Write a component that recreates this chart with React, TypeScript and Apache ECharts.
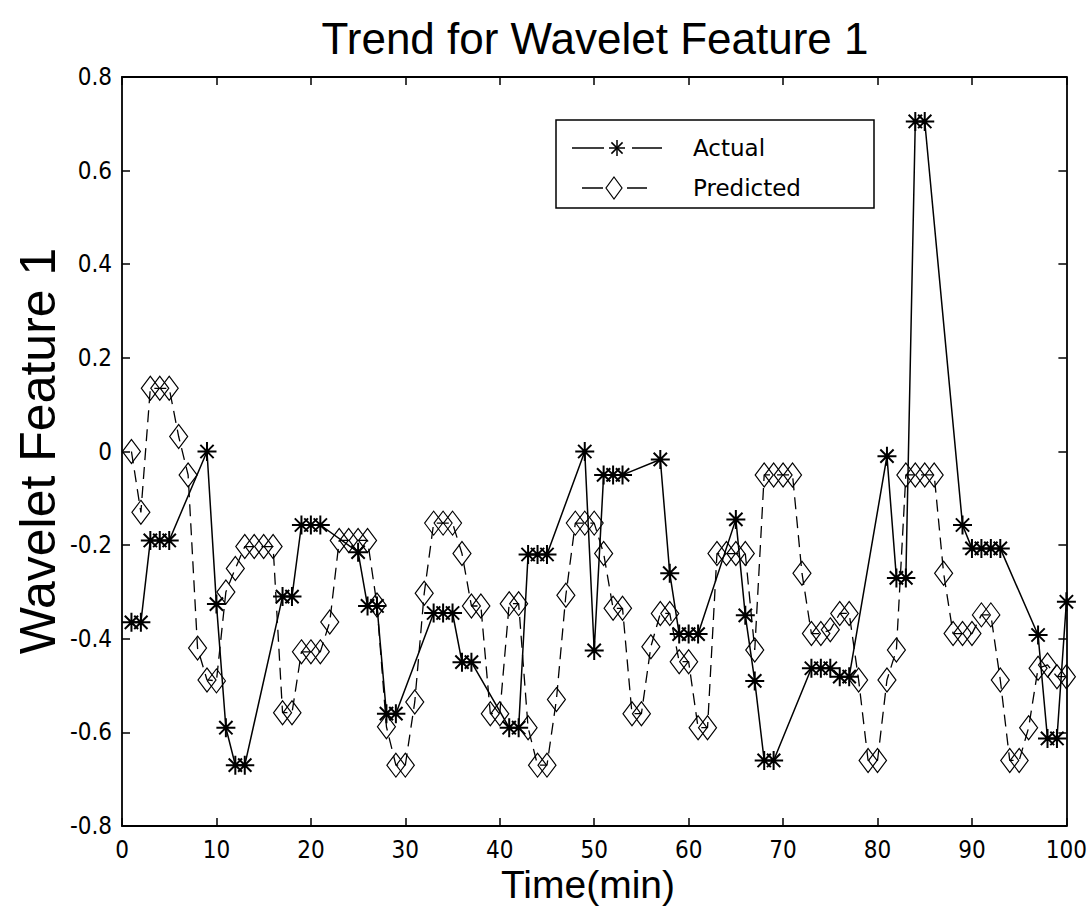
import React, { useEffect, useRef } from "react";
import * as echarts from "echarts";

const actualTime = [1, 2, 3, 4, 5, 9, 10, 11, 12, 13, 17, 18, 19, 20, 21, 25, 26, 27, 28, 29, 33, 34, 35, 36, 37, 41, 42, 43, 44, 45, 49, 50, 51, 52, 53, 57, 58, 59, 60, 61, 65, 66, 67, 68, 69, 73, 74, 75, 76, 77, 81, 82, 83, 84, 85, 89, 90, 91, 92, 93, 97, 98, 99, 100];
const actualValues = [-0.365, -0.365, -0.19, -0.19, -0.19, 0.0, -0.326, -0.59, -0.67, -0.67, -0.31, -0.31, -0.157, -0.157, -0.157, -0.215, -0.33, -0.33, -0.56, -0.56, -0.345, -0.345, -0.345, -0.45, -0.45, -0.59, -0.59, -0.22, -0.22, -0.22, 0.0, -0.425, -0.05, -0.05, -0.05, -0.017, -0.26, -0.39, -0.39, -0.39, -0.145, -0.35, -0.49, -0.66, -0.66, -0.463, -0.463, -0.463, -0.481, -0.481, -0.01, -0.27, -0.27, 0.705, 0.705, -0.157, -0.207, -0.207, -0.207, -0.207, -0.392, -0.613, -0.613, -0.321];

const predictedTime = [1, 2, 3, 4, 5, 6, 7, 8, 9, 10, 11, 12, 13, 14, 15, 16, 17, 18, 19, 20, 21, 22, 23, 24, 25, 26, 27, 28, 29, 30, 31, 32, 33, 34, 35, 36, 37, 38, 39, 40, 41, 42, 43, 44, 45, 46, 47, 48, 49, 50, 51, 52, 53, 54, 55, 56, 57, 58, 59, 60, 61, 62, 63, 64, 65, 66, 67, 68, 69, 70, 71, 72, 73, 74, 75, 76, 77, 78, 79, 80, 81, 82, 83, 84, 85, 86, 87, 88, 89, 90, 91, 92, 93, 94, 95, 96, 97, 98, 99, 100];
const predictedValues = [0.0, -0.13, 0.135, 0.135, 0.135, 0.032, -0.05, -0.42, -0.488, -0.49, -0.3, -0.25, -0.203, -0.203, -0.203, -0.203, -0.558, -0.558, -0.428, -0.428, -0.428, -0.364, -0.19, -0.19, -0.19, -0.19, -0.328, -0.588, -0.67, -0.67, -0.535, -0.303, -0.153, -0.153, -0.153, -0.218, -0.33, -0.33, -0.56, -0.56, -0.325, -0.325, -0.59, -0.67, -0.67, -0.53, -0.307, -0.153, -0.153, -0.153, -0.218, -0.335, -0.335, -0.56, -0.56, -0.417, -0.346, -0.346, -0.449, -0.449, -0.59, -0.59, -0.218, -0.218, -0.218, -0.218, -0.424, -0.05, -0.05, -0.05, -0.05, -0.26, -0.389, -0.389, -0.381, -0.346, -0.346, -0.488, -0.66, -0.66, -0.488, -0.424, -0.05, -0.05, -0.05, -0.05, -0.26, -0.389, -0.389, -0.389, -0.349, -0.349, -0.488, -0.66, -0.66, -0.59, -0.463, -0.456, -0.481, -0.481];

const titleText = "Trend for Wavelet Feature 1";
const xAxisTitle = "Time(min)";
const yAxisTitle = "Wavelet Feature 1";
const seriesNames = ["Actual", "Predicted"];

const ASTERISK = "path://M10,0 L10,20 M0,10 L20,10 M3,3 L17,17 M3,17 L17,3";
const tickFont = "'Liberation Sans Narrow', 'DejaVu Sans Condensed', 'Liberation Sans', Arial, sans-serif";
const labelFont = "'Liberation Sans', Arial, sans-serif";

export default function App() {
  const ref = useRef<HTMLDivElement>(null);
  useEffect(() => {
    if (!ref.current) return;
    const chart = echarts.init(ref.current, undefined, { renderer: "svg" });
    const axisLine = { show: true, onZero: false, lineStyle: { color: "#000", width: 1.8 } };
    const axisTick = { show: true, inside: true, length: 8, lineStyle: { color: "#000", width: 1.5 } };
    const fmtY = (v: number) => (Math.abs(v) < 1e-9 ? "0" : v.toFixed(1));

    const legendX = 556, legendY = 120, legendW = 318, legendH = 88;
    const aY = 148, pY = 188;
    const Z = 100;
    const seg = (x1: number, y1: number, x2: number, y2: number, w = 1.5) => ({
      type: "line", z: Z + 1, shape: { x1, y1, x2, y2 }, style: { stroke: "#000", lineWidth: w },
    });
    const ast = (cx: number, cy: number, r: number) => [
      seg(cx, cy - r, cx, cy + r),
      seg(cx - r, cy, cx + r, cy),
      seg(cx - r * 0.7, cy - r * 0.7, cx + r * 0.7, cy + r * 0.7),
      seg(cx - r * 0.7, cy + r * 0.7, cx + r * 0.7, cy - r * 0.7),
    ];

    chart.setOption({
      animation: false,
      backgroundColor: "#fff",
      grid: { left: 122, right: 22, top: 77, bottom: 93, containLabel: false },
      xAxis: [
        {
          type: "value", min: 0, max: 100, interval: 10, position: "bottom",
          axisLine, axisTick, splitLine: { show: false },
          axisLabel: { color: "#000", fontSize: 24, fontFamily: tickFont, margin: 12 },
        },
        {
          type: "value", min: 0, max: 100, interval: 10, position: "top",
          axisLine, axisTick, splitLine: { show: false }, axisLabel: { show: false },
        },
      ],
      yAxis: [
        {
          type: "value", min: -0.8, max: 0.8, interval: 0.2, position: "left",
          axisLine, axisTick, splitLine: { show: false },
          axisLabel: { color: "#000", fontSize: 24, fontFamily: tickFont, margin: 10, formatter: fmtY },
        },
        {
          type: "value", min: -0.8, max: 0.8, interval: 0.2, position: "right",
          axisLine, axisTick, splitLine: { show: false }, axisLabel: { show: false },
        },
      ],
      series: [
        {
          name: seriesNames[0], type: "line", xAxisIndex: 0, yAxisIndex: 0,
          data: actualTime.map((t, i) => [t, actualValues[i]]),
          symbol: ASTERISK, symbolSize: 19, showSymbol: true,
          lineStyle: { color: "#000", width: 1.5, type: "solid" },
          itemStyle: { color: "#000", borderColor: "#000", borderWidth: 2 },
        },
        {
          name: seriesNames[1], type: "line", xAxisIndex: 0, yAxisIndex: 0,
          data: predictedTime.map((t, i) => [t, predictedValues[i]]),
          symbol: "diamond", symbolSize: [18, 24], showSymbol: true,
          lineStyle: { color: "#000", width: 1.3, type: [12, 7] },
          itemStyle: { color: "rgba(255,255,255,0)", borderColor: "#000", borderWidth: 1.2 },
        },
      ],
      graphic: [
        {
          type: "text", x: 595, y: 38,
          style: { text: titleText, fill: "#000", font: `44px ${labelFont}`, textAlign: "center", textVerticalAlign: "middle", align: "center", verticalAlign: "middle" },
        },
        {
          type: "text", x: 588, y: 884,
          style: { text: xAxisTitle, fill: "#000", font: `39px ${labelFont}`, textAlign: "center", textVerticalAlign: "middle", align: "center", verticalAlign: "middle" },
        },
        {
          type: "text", x: 38, y: 451, rotation: Math.PI / 2,
          style: { text: yAxisTitle, fill: "#000", font: `50px ${labelFont}`, textAlign: "center", textVerticalAlign: "middle", align: "center", verticalAlign: "middle" },
        },
        {
          type: "rect", z: Z, shape: { x: legendX, y: legendY, width: legendW, height: legendH },
          style: { fill: "#fff", stroke: "#000", lineWidth: 1.5 },
        },
        seg(572, aY, 604, aY),
        ...ast(617, aY, 8),
        seg(632, aY, 662, aY),
        {
          type: "text", z: Z + 1, x: 693, y: aY,
          style: { text: seriesNames[0], fill: "#000", font: "23px 'DejaVu Sans', sans-serif", textVerticalAlign: "middle", verticalAlign: "middle" },
        },
        seg(582, pY, 603, pY),
        {
          type: "polygon", z: Z + 1, shape: { points: [[614, pY - 11], [622, pY], [614, pY + 11], [606, pY]] },
          style: { fill: "none", stroke: "#000", lineWidth: 1.2 },
        },
        seg(627, pY, 647, pY),
        {
          type: "text", z: Z + 1, x: 693, y: pY,
          style: { text: seriesNames[1], fill: "#000", font: "23px 'DejaVu Sans', sans-serif", textVerticalAlign: "middle", verticalAlign: "middle" },
        },
      ],
    });
    return () => chart.dispose();
  }, []);
  return <div ref={ref} style={{ position: "absolute", left: 0, top: 0, width: 1090, height: 919 }} />;
}
